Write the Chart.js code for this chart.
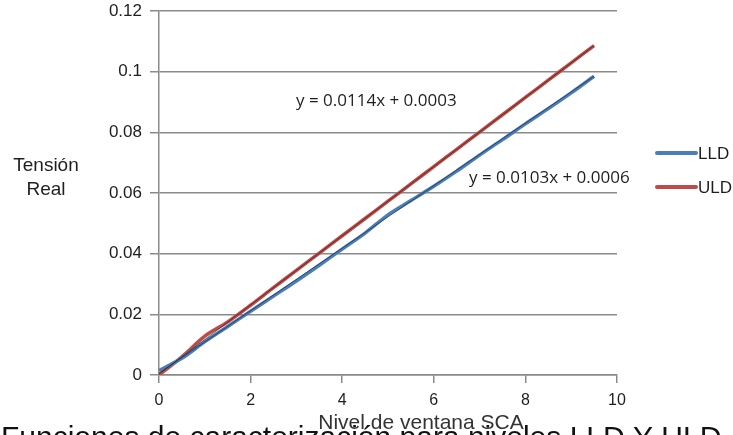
<!DOCTYPE html>
<html>
<head>
<meta charset="utf-8">
<script src="https://cdn.jsdelivr.net/npm/chart.js@4/dist/chart.umd.min.js"></script>
<style>
  html, body { margin: 0; padding: 0; background: #fff; overflow: hidden; }
  #wrap { width: 733px; height: 435px; position: relative; }
</style>
</head>
<body>
<div id="wrap"><canvas id="chart" width="733" height="435"></canvas></div>
<script>
// === DATA ===
const xLevels = [0, 0.5, 1, 1.5, 2, 2.5, 3, 3.5, 4, 4.5, 5, 5.5, 6, 6.5, 7, 7.5, 8, 8.5, 9, 9.5];
const lldValues = [0.0015, 0.0055, 0.0110, 0.0160, 0.0210, 0.0260, 0.0310, 0.0362, 0.0415, 0.0468, 0.0528, 0.0575, 0.0622, 0.0672, 0.0725, 0.0776, 0.0828, 0.0878, 0.0930, 0.0985];
const uldValues = [0.0000, 0.0060, 0.0128, 0.0175, 0.0230, 0.0288, 0.0345, 0.0402, 0.0459, 0.0516, 0.0573, 0.0630, 0.0687, 0.0744, 0.0801, 0.0858, 0.0915, 0.0972, 0.1029, 0.1086];
// trendline end points
const lldTrendX = [0, 9.5];
const lldTrendY = [0.0006, 0.0985];
const uldTrendX = [0, 9.5];
const uldTrendY = [0.0003, 0.1086];
const seriesNames = ['LLD', 'ULD'];
const equations = ['y = 0.0114x + 0.0003', 'y = 0.0103x + 0.0006'];
const yTitle = ['Tensión', 'Real'];
const xTitle = 'Nivel de ventana SCA';
const caption = 'Funciones de caracterización para niveles LLD Y ULD. T';

const COLORS = { blue: '#4a7ebb', red: '#be4b48', grid: '#8a8a8a', text: '#1e1e1e' };

const toPts = (xs, ys) => xs.map((x, i) => ({ x, y: ys[i] }));

const overlayText = {
    id: 'overlayText',
    afterDraw(chart) {
        const c = chart.ctx;
        c.save();
        c.fillStyle = COLORS.text;
        // y axis title, horizontal two lines
        c.font = '19px "Liberation Sans", Arial, sans-serif';
        c.textAlign = 'center'; c.textBaseline = 'middle';
        c.fillText(yTitle[0], 46, 166);
        c.fillText(yTitle[1], 46, 190);
        // x axis title
        c.font = '21px "Liberation Sans", Arial, sans-serif';
        c.textBaseline = 'alphabetic';
        c.fillStyle = '#333';
        c.fillText(xTitle, 421, 429);
        // trendline equations
        c.fillStyle = COLORS.text;
        c.font = '17px "Open Sans", "Liberation Sans", sans-serif';
        c.textAlign = 'left'; c.textBaseline = 'middle';
        c.fillText(equations[0], 296, 101);
        c.fillText(equations[1], 469, 178);
        // legend
        const legendY = [153, 187];
        const legendCol = [COLORS.blue, COLORS.red];
        c.lineCap = 'round'; c.lineWidth = 4;
        c.font = '17px "Liberation Sans", Arial, sans-serif';
        legendY.forEach((y, i) => {
            c.strokeStyle = legendCol[i];
            c.beginPath(); c.moveTo(657, y); c.lineTo(696, y); c.stroke();
            c.fillStyle = COLORS.text;
            c.fillText(seriesNames[i], 698, y + 1);
        });
        // caption, cut off at bottom edge
        c.font = '30px "Liberation Sans", Arial, sans-serif';
        c.fillStyle = '#111';
        c.textBaseline = 'alphabetic';
        c.fillText(caption, 1, 447);
        c.restore();
    }
};

new Chart(document.getElementById('chart').getContext('2d'), {
    type: 'scatter',
    data: {
        datasets: [
            { label: seriesNames[0], data: toPts(xLevels, lldValues), showLine: true, borderColor: COLORS.blue, borderWidth: 3.5, pointRadius: 0, tension: 0.3, order: 2 },
            { label: seriesNames[1], data: toPts(xLevels, uldValues), showLine: true, borderColor: COLORS.red, borderWidth: 3.5, pointRadius: 0, tension: 0.3, order: 2 },
            { label: 'trend LLD', data: toPts(lldTrendX, lldTrendY), showLine: true, borderColor: 'rgba(20,20,20,0.6)', borderWidth: 0.9, pointRadius: 0, order: 1 },
            { label: 'trend ULD', data: toPts(uldTrendX, uldTrendY), showLine: true, borderColor: 'rgba(20,20,20,0.6)', borderWidth: 0.9, pointRadius: 0, order: 1 }
        ]
    },
    options: {
        responsive: false, animation: false,
        layout: { padding: { left: 0, right: 116, top: 11, bottom: 0 } },
        plugins: { legend: { display: false }, tooltip: { enabled: false } },
        scales: {
            x: {
                type: 'linear', min: 0, max: 10,
                afterFit: s => { s.height = 60; },
                grid: { drawOnChartArea: false, color: COLORS.grid, lineWidth: 1.5, tickLength: 8 },
                border: { color: COLORS.grid, width: 1.5 },
                ticks: { stepSize: 2, color: COLORS.text, padding: 8, font: { family: '"Liberation Sans Narrow", "Liberation Sans", Arial', size: 16 } }
            },
            y: {
                min: 0, max: 0.12,
                afterFit: s => { s.width = 159; s.paddingTop = 0; },
                grid: { color: COLORS.grid, lineWidth: 1.5, tickLength: 9 },
                border: { color: COLORS.grid, width: 1.5 },
                ticks: { stepSize: 0.02, color: COLORS.text, padding: 8, font: { family: '"Liberation Sans", Arial', size: 17, lineHeight: 1 }, callback: v => String(+v.toFixed(2)) }
            }
        }
    },
    plugins: [overlayText]
});
</script>
</body>
</html>
